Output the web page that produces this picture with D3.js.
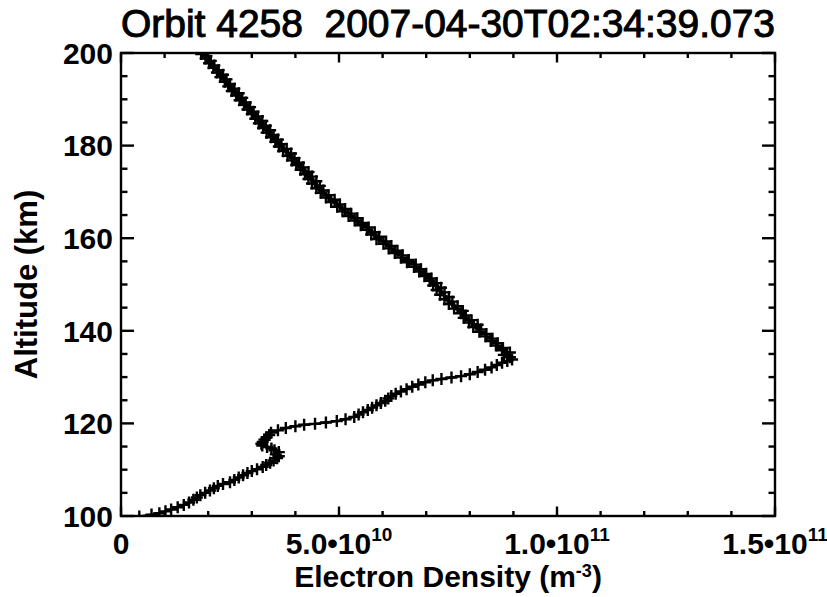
<!DOCTYPE html>
<html>
<head>
<meta charset="utf-8">
<script src="https://cdn.jsdelivr.net/npm/d3@7"></script>
<style>
  html, body { margin: 0; padding: 0; background: #fff; }
  svg { display: block; }
  text { font-family: "Liberation Sans", Arial, Helvetica, sans-serif; fill: #000; }
</style>
</head>
<body>
<script>
// Electron density profile, orbit 4258
const titleText = "Orbit 4258  2007-04-30T02:34:39.073";

// Altitude of each sample (km), in acquisition order
const altitudeKm = [
  99.9, 100.3, 100.6, 101.0, 101.4, 101.9, 102.4, 102.9, 103.5, 104.0,
  104.5, 105.0, 105.5, 106.0, 106.5, 106.9, 107.3, 107.8, 108.3, 108.8,
  109.3, 109.7, 110.1, 110.6, 111.0, 111.5, 112.0, 112.5, 112.9, 113.3,
  113.8, 114.2, 114.6, 114.9, 115.2, 115.6, 116.0, 116.5, 117.0, 117.5,
  118.0, 118.5, 119.0, 119.4, 119.7, 119.9, 120.2, 120.5, 120.9, 121.4,
  121.9, 122.4, 122.9, 123.4, 123.9, 124.4, 124.9, 125.4, 125.9, 126.4,
  126.9, 127.4, 127.9, 128.4, 128.9, 129.3, 129.6, 129.9, 130.2, 130.6,
  131.1, 131.6, 132.1, 132.6, 133.1, 133.5, 133.8,
  134.3, 134.8, 135.3, 135.8, 136.3, 136.8, 137.3, 137.8, 138.3, 138.8,
  139.3, 139.8, 140.3, 140.8, 141.3, 141.8, 142.3, 142.8, 143.3, 143.8,
  144.3, 144.8, 145.3, 145.8, 146.3, 146.8, 147.3, 147.8, 148.3, 148.8,
  149.3, 149.8, 150.3, 150.8, 151.3, 151.8, 152.3, 152.8, 153.3, 153.8,
  154.3, 154.8, 155.3, 155.8, 156.3, 156.8, 157.3, 157.8, 158.3, 158.8,
  159.3, 159.8, 160.3, 160.8, 161.3, 161.8, 162.3, 162.8, 163.3, 163.8,
  164.3, 164.8, 165.3, 165.8, 166.3, 166.8, 167.3, 167.8, 168.3, 168.8,
  169.3, 169.8, 170.3, 170.8, 171.3, 171.8, 172.3, 172.8, 173.3, 173.8,
  174.3, 174.8, 175.3, 175.8, 176.3, 176.8, 177.3, 177.8, 178.3, 178.8,
  179.3, 179.8, 180.3, 180.8, 181.3, 181.8, 182.3, 182.8, 183.3, 183.8,
  184.3, 184.8, 185.3, 185.8, 186.3, 186.8, 187.3, 187.8, 188.3, 188.8,
  189.3, 189.8, 190.3, 190.8, 191.3, 191.8, 192.3, 192.8, 193.3, 193.8,
  194.3, 194.8, 195.3, 195.8, 196.3, 196.8, 197.3, 197.8, 198.3, 198.8,
  199.3, 199.8, 200.3
];

// Electron density of each sample (m^-3)
const densityM3 = [
  0.42e10, 0.70e10, 0.88e10, 1.02e10, 1.15e10, 1.30e10, 1.44e10, 1.56e10, 1.66e10, 1.74e10,
  1.82e10, 1.93e10, 2.04e10, 2.13e10, 2.22e10, 2.34e10, 2.50e10, 2.60e10, 2.70e10, 2.80e10,
  2.90e10, 3.00e10, 3.12e10, 3.25e10, 3.33e10, 3.42e10, 3.50e10, 3.58e10, 3.62e10, 3.55e10,
  3.62e10, 3.52e10, 3.45e10, 3.35e10, 3.24e10, 3.22e10, 3.25e10, 3.29e10, 3.34e10, 3.40e10,
  3.44e10, 3.60e10, 3.78e10, 4.00e10, 4.20e10, 4.45e10, 4.70e10, 4.95e10, 5.15e10, 5.35e10,
  5.45e10, 5.55e10, 5.66e10, 5.76e10, 5.86e10, 5.96e10, 6.06e10, 6.13e10, 6.20e10, 6.30e10,
  6.42e10, 6.55e10, 6.68e10, 6.82e10, 6.98e10, 7.15e10, 7.35e10, 7.58e10, 7.80e10, 8.00e10,
  8.18e10, 8.35e10, 8.50e10, 8.62e10, 8.74e10, 8.86e10, 8.97e10,
  8.92e10, 8.78e10, 8.92e10, 8.74e10, 8.76e10, 8.60e10, 8.64e10, 8.48e10, 8.52e10, 8.36e10,
  8.38e10, 8.22e10, 8.26e10, 8.08e10, 8.18e10, 7.98e10, 8.04e10, 7.86e10, 7.90e10, 7.80e10,
  7.84e10, 7.64e10, 7.72e10, 7.52e10, 7.60e10, 7.42e10, 7.52e10, 7.32e10, 7.42e10, 7.24e10,
  7.34e10, 7.16e10, 7.24e10, 7.08e10, 7.12e10, 6.96e10, 7.00e10, 6.84e10, 6.88e10, 6.72e10,
  6.76e10, 6.56e10, 6.60e10, 6.42e10, 6.46e10, 6.28e10, 6.34e10, 6.14e10, 6.20e10, 6.02e10,
  6.08e10, 5.86e10, 5.92e10, 5.74e10, 5.82e10, 5.64e10, 5.68e10, 5.50e10, 5.54e10, 5.36e10,
  5.42e10, 5.22e10, 5.28e10, 5.08e10, 5.14e10, 4.96e10, 5.02e10, 4.82e10, 4.90e10, 4.70e10,
  4.76e10, 4.58e10, 4.64e10, 4.48e10, 4.56e10, 4.38e10, 4.48e10, 4.30e10, 4.38e10, 4.22e10,
  4.30e10, 4.12e10, 4.18e10, 4.02e10, 4.08e10, 3.92e10, 3.98e10, 3.82e10, 3.90e10, 3.72e10,
  3.80e10, 3.62e10, 3.68e10, 3.54e10, 3.60e10, 3.44e10, 3.50e10, 3.34e10, 3.42e10, 3.26e10,
  3.32e10, 3.16e10, 3.24e10, 3.08e10, 3.14e10, 3.00e10, 3.04e10, 2.90e10, 2.96e10, 2.82e10,
  2.86e10, 2.72e10, 2.78e10, 2.64e10, 2.70e10, 2.54e10, 2.60e10, 2.46e10, 2.50e10, 2.38e10,
  2.42e10, 2.28e10, 2.34e10, 2.20e10, 2.24e10, 2.12e10, 2.14e10, 2.02e10, 2.06e10, 1.94e10,
  1.96e10, 1.84e10, 1.86e10
];

// Axis ranges and tick labels
const xDomain = [0, 1.5e11];
const yDomain = [100, 200];
const xMajorTicks = [0, 5e10, 1e11, 1.5e11];
const xTickMantissa = ["0", "5.0", "1.0", "1.5"];
const xTickExponent = ["", "10", "11", "11"];
const xMinorStep = 1e10;
const yMajorTicks = [100, 120, 140, 160, 180, 200];
const yMinorStep = 5;
const xAxisTitle = "Electron Density (m";
const xAxisTitleExp = "-3";
const yAxisTitle = "Altitude (km)";

const W = 827, H = 597;
const plot = { left: 121, right: 775, top: 53, bottom: 516 };

const svg = d3.select("body").append("svg")
  .attr("width", W).attr("height", H)
  .style("background", "#fff");

const x = d3.scaleLinear().domain(xDomain).range([plot.left, plot.right]);
const y = d3.scaleLinear().domain(yDomain).range([plot.bottom, plot.top]);

const pts = altitudeKm.map((a, i) => ({ alt: a, ne: densityM3[i] }));

// Clip region for the data
svg.append("defs").append("clipPath").attr("id", "plotClip")
  .append("rect")
  .attr("x", plot.left).attr("y", plot.top)
  .attr("width", plot.right - plot.left).attr("height", plot.bottom - plot.top);

const dataG = svg.append("g").attr("clip-path", "url(#plotClip)");

dataG.append("path")
  .datum(pts)
  .attr("fill", "none")
  .attr("stroke", "#000")
  .attr("stroke-width", 2.4)
  .attr("stroke-linejoin", "round")
  .attr("d", d3.line().x(d => x(d.ne)).y(d => y(d.alt)));

// Plus-sign markers at each sample
const arm = 6;
dataG.selectAll("path.mk")
  .data(pts)
  .join("path")
  .attr("class", "mk")
  .attr("fill", "none")
  .attr("stroke", "#000")
  .attr("stroke-width", 2.4)
  .attr("d", d => {
    const cx = x(d.ne), cy = y(d.alt);
    return `M${cx - arm},${cy}H${cx + arm}M${cx},${cy - arm}V${cy + arm}`;
  });

// Frame with inward ticks on all four sides
const axG = svg.append("g").attr("stroke", "#000").attr("stroke-width", 2.4).attr("fill", "none");
axG.append("rect")
  .attr("x", plot.left).attr("y", plot.top)
  .attr("width", plot.right - plot.left).attr("height", plot.bottom - plot.top);

const xMinor = d3.range(xDomain[0], xDomain[1] + 1, xMinorStep);
const yMinor = d3.range(yDomain[0], yDomain[1] + 0.001, yMinorStep);
const xMajLen = 9.5, xMinLen = 5, yMajLen = 13, yMinLen = 6.5;

xMinor.forEach(v => {
  const isMajor = xMajorTicks.some(t => Math.abs(t - v) < 1);
  const len = isMajor ? xMajLen : xMinLen;
  const px = x(v);
  axG.append("line").attr("x1", px).attr("x2", px).attr("y1", plot.bottom).attr("y2", plot.bottom - len);
  axG.append("line").attr("x1", px).attr("x2", px).attr("y1", plot.top).attr("y2", plot.top + len);
});
yMinor.forEach(v => {
  const isMajor = yMajorTicks.some(t => Math.abs(t - v) < 0.01);
  const len = isMajor ? yMajLen : yMinLen;
  const py = y(v);
  axG.append("line").attr("y1", py).attr("y2", py).attr("x1", plot.left).attr("x2", plot.left + len);
  axG.append("line").attr("y1", py).attr("y2", py).attr("x1", plot.right).attr("x2", plot.right - len);
});

// Y tick labels
svg.append("g").selectAll("text")
  .data(yMajorTicks)
  .join("text")
  .attr("x", plot.left - 8)
  .attr("y", d => y(d))
  .attr("dy", "0.36em")
  .attr("text-anchor", "end")
  .attr("font-weight", "bold")
  .attr("font-size", 30)
  .text(d => d);

// X tick labels with power-of-ten superscripts
const xl = svg.append("g");
xMajorTicks.forEach((v, i) => {
  const t = xl.append("text")
    .attr("x", x(v))
    .attr("y", 554)
    .attr("text-anchor", "middle")
    .attr("font-weight", "bold")
    .attr("font-size", 30);
  if (xTickExponent[i] === "") {
    t.text(xTickMantissa[i]);
  } else {
    t.append("tspan").text(xTickMantissa[i] + "\u202210");
    t.append("tspan").attr("font-size", 19).attr("dy", -13).text(xTickExponent[i]);
  }
});

// Axis titles
const xt = svg.append("text")
  .attr("x", (plot.left + plot.right) / 2)
  .attr("y", 587)
  .attr("text-anchor", "middle")
  .attr("font-weight", "bold")
  .attr("font-size", 30);
xt.append("tspan").text(xAxisTitle);
xt.append("tspan").attr("font-size", 18).attr("dy", -10).text(xAxisTitleExp);
xt.append("tspan").attr("dy", 10).text(")");

svg.append("text")
  .attr("transform", `translate(37,${(plot.top + plot.bottom) / 2}) rotate(-90)`)
  .attr("text-anchor", "middle")
  .attr("font-weight", "bold")
  .attr("font-size", 31)
  .text(yAxisTitle);

// Title
svg.append("text")
  .attr("x", (plot.left + plot.right) / 2)
  .attr("y", 37)
  .attr("text-anchor", "middle")
  .attr("font-size", 38)
  .attr("stroke", "#000")
  .attr("stroke-width", 1)
  .attr("textLength", plot.right - plot.left)
  .attr("lengthAdjust", "spacingAndGlyphs")
  .style("white-space", "pre")
  .attr("xml:space", "preserve")
  .text(titleText);
</script>
</body>
</html>
